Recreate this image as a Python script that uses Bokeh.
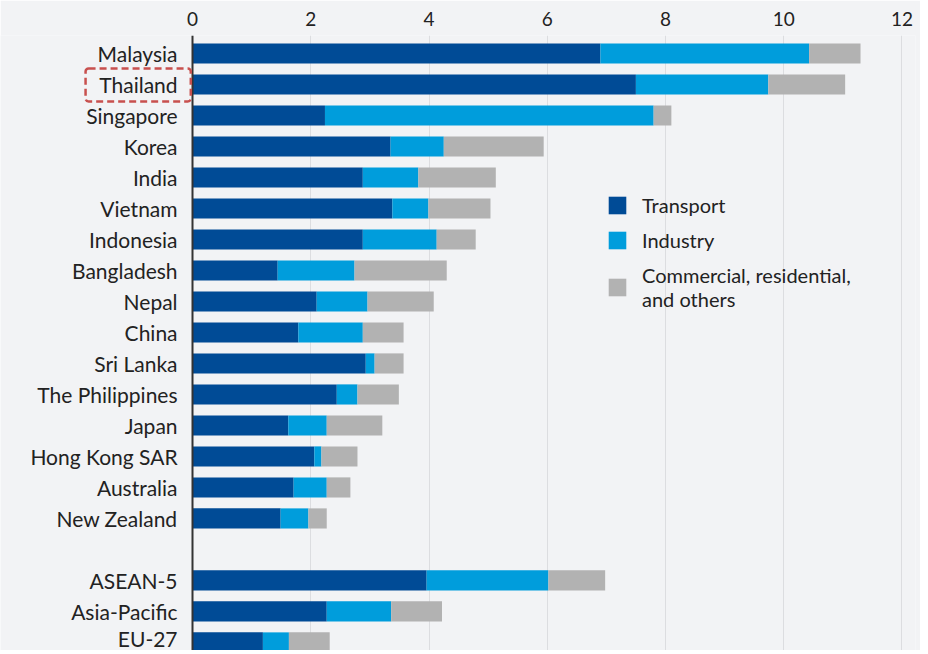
from bokeh.plotting import figure
from bokeh.models import Range1d, FixedTicker, LinearAxis, Legend, LegendItem, BoxAnnotation, ColumnDataSource
from bokeh.embed import file_html
from bokeh.resources import INLINE

countries = ["Malaysia", "Thailand", "Singapore", "Korea", "India", "Vietnam", "Indonesia",
             "Bangladesh", "Nepal", "China", "Sri Lanka", "The Philippines", "Japan",
             "Hong Kong SAR", "Australia", "New Zealand", "ASEAN-5", "Asia-Pacific", "EU-27"]
transport = [6.90, 7.50, 2.24, 3.35, 2.88, 3.38, 2.88, 1.44, 2.10, 1.79, 2.93, 2.44, 1.62,
             2.06, 1.71, 1.49, 3.96, 2.27, 1.19]
industry = [3.53, 2.24, 5.56, 0.90, 0.94, 0.61, 1.25, 1.30, 0.86, 1.09, 0.15, 0.35, 0.65,
            0.12, 0.56, 0.47, 2.06, 1.09, 0.44]
others = [0.87, 1.30, 0.30, 1.69, 1.31, 1.05, 0.66, 1.56, 1.12, 0.69, 0.49, 0.70, 0.94,
          0.61, 0.40, 0.31, 0.96, 0.86, 0.69]
x_ticks = [0, 2, 4, 6, 8, 10, 12]
series_names = ["Transport", "Industry", "Commercial, residential,\nand others"]
colors = ["#004b96", "#009ddc", "#b2b2b2"]
highlight = "Thailand"

# row positions: one empty row between the countries and the aggregates
rows = list(range(16)) + [17, 18, 19]

src = ColumnDataSource(dict(y=rows, transport=transport, industry=industry, others=others))

BG = "#f2f3f5"
FONT = "Lato"
TXT = "#222222"

p = figure(width=920, height=650, output_backend="svg", toolbar_location=None,
           x_range=Range1d(-3.249, 12.23), y_range=Range1d(19.26, -0.58),
           x_axis_location=None, y_axis_location=None,
           min_border_left=0, min_border_right=5, min_border_top=35, min_border_bottom=0)
p.background_fill_color = BG
p.border_fill_color = BG
p.outline_line_color = None

renderers = p.hbar_stack(["transport", "industry", "others"], y="y", height=0.65,
                         color=colors, source=src, line_color=None)

# top value axis
top = LinearAxis(ticker=FixedTicker(ticks=x_ticks))
top.axis_line_color = None
top.major_tick_line_color = None
top.minor_tick_line_color = None
top.major_label_text_font = FONT
top.major_label_text_font_size = "19px"
top.major_label_text_color = TXT
top.major_label_standoff = 4
p.add_layout(top, "above")

# category axis drawn at x = 0 inside the frame
left = LinearAxis(ticker=FixedTicker(ticks=rows), fixed_location=0,
                  major_label_overrides={r: c for r, c in zip(rows, countries)})
left.axis_line_color = "#333333"
left.axis_line_width = 2
left.major_tick_line_color = None
left.minor_tick_line_color = None
left.major_label_text_font = FONT
left.major_label_text_font_size = "21px"
left.major_label_text_color = TXT
left.major_label_standoff = 9
p.add_layout(left, "left")

p.xgrid.ticker = FixedTicker(ticks=x_ticks)
p.ygrid.grid_line_color = None
p.xgrid.grid_line_color = "#dcdde0"

# dashed highlight box around the Thailand label
hl_row = rows[countries.index(highlight)]
box = BoxAnnotation(left=-1.81, right=-0.03, top=hl_row - 0.516, bottom=hl_row + 0.548,
                    fill_color=None, fill_alpha=0, line_color="#c8504e", line_alpha=1.0,
                    line_width=2.5, line_dash="7 4", border_radius=3, level="overlay")
p.add_layout(box)

legend = Legend(items=[LegendItem(label=n, renderers=[r]) for n, r in zip(series_names, renderers)],
                location=(606, 339))
legend.background_fill_alpha = 0
legend.border_line_color = None
legend.label_text_font = FONT
legend.label_text_font_size = "20px"
legend.label_text_color = TXT
legend.glyph_width = 22
legend.glyph_height = 22
legend.spacing = 11
legend.padding = 0
legend.margin = 0
legend.label_standoff = 14
p.add_layout(legend)

open("out.html", "w").write(file_html(p, INLINE))
